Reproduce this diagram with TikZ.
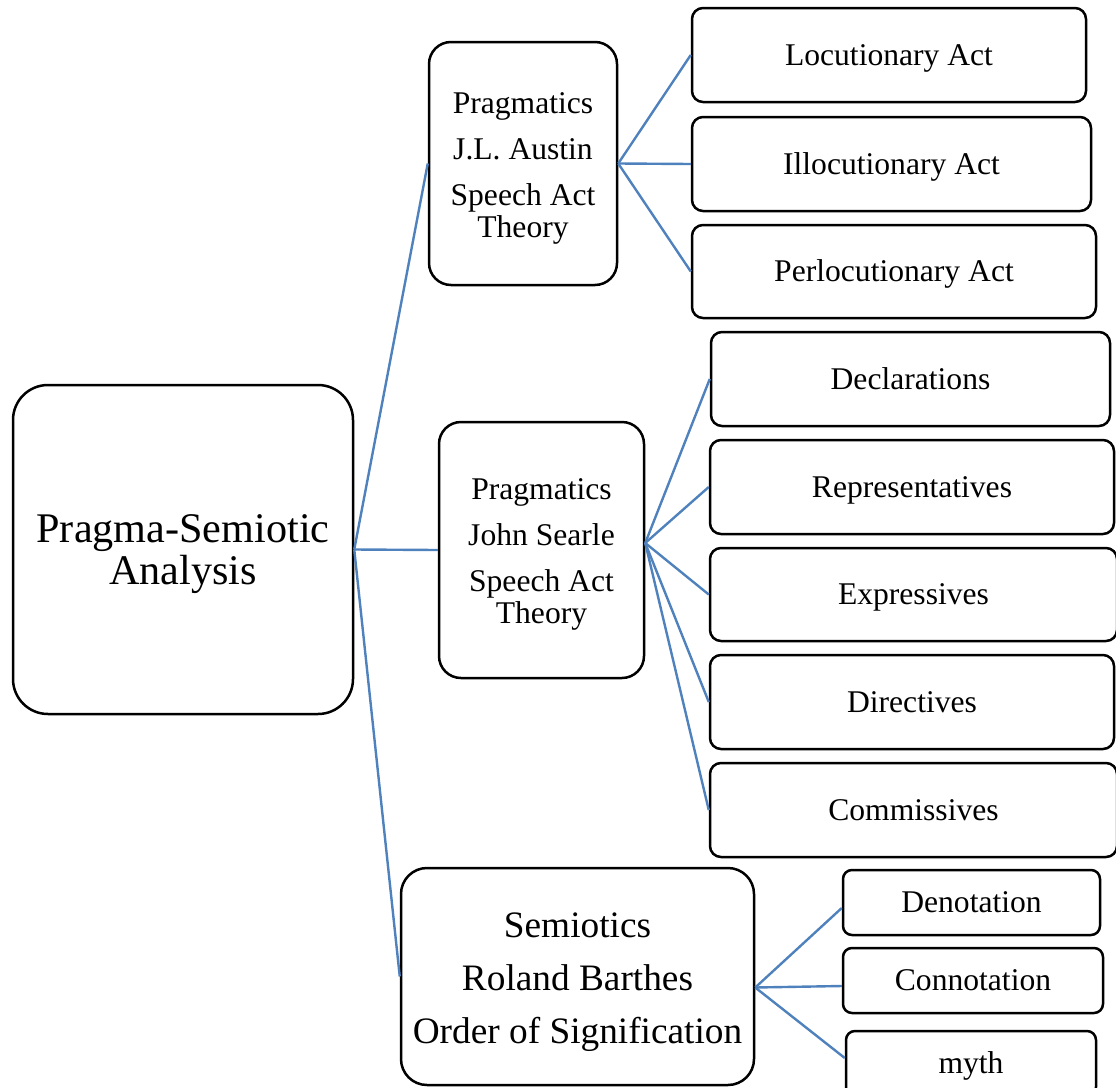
\documentclass[tikz,border=0pt]{standalone}
\usepackage{fontspec}
\setmainfont{Liberation Serif}
\definecolor{connblue}{RGB}{79,129,189}
\newcommand\fsSmall{\fontsize{31.6}{32}\selectfont}
\newcommand\fsMid{\fontsize{37.3}{53}\selectfont}
\newcommand\fsBig{\fontsize{42.2}{42}\selectfont}
\tikzset{
  box/.style={draw=black, line width=2.5pt, fill=white, inner sep=0pt, align=center},
  leafbox/.style={box, rounded corners=11pt, font=\fsSmall, text height=20pt, text depth=0pt},
  midbox/.style={box, rounded corners=22pt, font=\fsSmall},
  conn/.style={draw=connblue, line width=2.4pt}
}
\begin{document}
\begin{tikzpicture}[x=1pt, y=-1pt]
\useasboundingbox (0,0) rectangle (1116,1087);
\clip (0,0) rectangle (1116,1087);
% main boxes
\node[box, rounded corners=35pt, font=\fsBig, minimum width=340pt, minimum height=329pt] (root) at (183,549.5) {\rule{0pt}{37pt}Pragma-Semiotic\\Analysis};
\node[midbox, minimum width=188pt, minimum height=243pt] (austin) at (523,163.5) {\rule{0pt}{30pt}Pragmatics\\[14pt]J.L. Austin\\[14pt]Speech Act\\Theory};
\node[midbox, minimum width=205pt, minimum height=256pt] (searle) at (541.5,550) {\rule{0pt}{30pt}Pragmatics\\[14pt]John Searle\\[14pt]Speech Act\\Theory};
\node[box, rounded corners=26pt, font=\fsMid, minimum width=353pt, minimum height=217pt] (barthes) at (577.5,976.5) {\rule{0pt}{36pt}Semiotics\\Roland Barthes\\Order of Signification};
% Austin leaves
\node[leafbox, minimum width=394pt, minimum height=94pt] (loc) at (889,55) {Locutionary Act};
\node[leafbox, minimum width=399pt, minimum height=94pt] (illoc) at (891.5,164) {Illocutionary Act};
\node[leafbox, minimum width=404pt, minimum height=93pt] (perloc) at (894,271.5) {Perlocutionary Act};
% Searle leaves
\node[leafbox, minimum width=399pt, minimum height=94pt] (decl) at (910.5,379) {Declarations};
\node[leafbox, minimum width=404pt, minimum height=94pt] (rep) at (912,487) {Representatives};
\node[leafbox, minimum width=407pt, minimum height=93pt] (expr) at (913.5,594.5) {Expressives};
\node[leafbox, minimum width=404pt, minimum height=94pt] (dir) at (912,702) {Directives};
\node[leafbox, minimum width=407pt, minimum height=94pt] (comm) at (913.5,810) {Commissives};
% Barthes leaves
\node[leafbox, rounded corners=9pt, minimum width=257pt, minimum height=65pt] (deno) at (971.5,902.5) {Denotation};
\node[leafbox, rounded corners=9pt, minimum width=260pt, minimum height=65pt] (conno) at (973,980.5) {Connotation};
\node[leafbox, rounded corners=9pt, minimum width=250pt, minimum height=65pt] (myth) at (971,1063.5) {myth};
% connectors
\draw[conn] (root.east) -- (austin.west);
\draw[conn] (root.east) -- (searle.west);
\draw[conn] (root.east) -- (barthes.west);
\draw[conn] (austin.east) -- (loc.west);
\draw[conn] (austin.east) -- (illoc.west);
\draw[conn] (austin.east) -- (perloc.west);
\draw[conn] ([yshift=7pt]searle.east) -- (decl.west);
\draw[conn] ([yshift=7pt]searle.east) -- (rep.west);
\draw[conn] ([yshift=7pt]searle.east) -- (expr.west);
\draw[conn] ([yshift=7pt]searle.east) -- (dir.west);
\draw[conn] ([yshift=7pt]searle.east) -- (comm.west);
\draw[conn] ([yshift=-11pt]barthes.east) -- ([yshift=-5.5pt]deno.west);
\draw[conn] ([yshift=-11pt]barthes.east) -- ([yshift=-5.5pt]conno.west);
\draw[conn] ([yshift=-11pt]barthes.east) -- ([yshift=5.5pt]myth.west);
\end{tikzpicture}
\end{document}
